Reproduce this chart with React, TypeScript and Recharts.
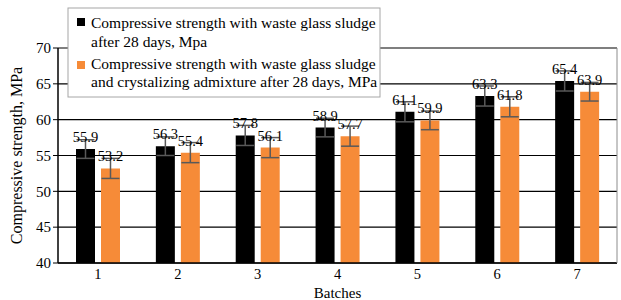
import { BarChart, Bar, XAxis, YAxis, CartesianGrid, ErrorBar, LabelList } from 'recharts'

const batches = ['1', '2', '3', '4', '5', '6', '7']
const sludge = [55.9, 56.3, 57.8, 58.9, 61.1, 63.3, 65.4]
const admixture = [53.2, 55.4, 56.1, 57.7, 59.9, 61.8, 63.9]
const sludgeErr = [1.3, 1.3, 1.4, 1.3, 1.4, 1.4, 1.4]
const admixtureErr = [1.4, 1.4, 1.4, 1.4, 1.3, 1.4, 1.3]
const yTicks = [40, 45, 50, 55, 60, 65, 70]

const data = batches.map((b, i) => ({
  batch: b,
  sludge: sludge[i],
  admixture: admixture[i],
  sludgeErr: sludgeErr[i],
  admixtureErr: admixtureErr[i],
}))

const font = 'Liberation Serif, Tinos, DejaVu Serif, Times New Roman, serif'
const orange = '#F68B38'

// legend drawn as a small svg on top of the chart
function LegendBox() {
  const txt = { fontFamily: font, fontSize: 15.5, fill: '#000' }
  return (
    <svg width={314} height={91} style={{ position: 'absolute', left: 67, top: 7 }}>
      <rect x={1} y={1} width={312} height={89} fill="#fff" stroke="#a6a6a6" />
      <rect x={10} y={11} width={8} height={8} fill="#000" />
      <text x={24} y={21} {...txt}>Compressive strength with waste glass sludge</text>
      <text x={24} y={40} {...txt}>after 28 days, Mpa</text>
      <rect x={10} y={54} width={8} height={8} fill={orange} />
      <text x={24} y={62} {...txt}>Compressive strength with waste glass sludge</text>
      <text x={24} y={80} {...txt}>and crystalizing admixture after 28 days, MPa</text>
    </svg>
  )
}

export default function App() {
  return (
    <div style={{ position: 'absolute', left: 0, top: 0, width: 621, height: 300, background: '#fff' }}>
      <BarChart
        width={621}
        height={300}
        data={data}
        margin={{ top: 48, right: 0, left: 0, bottom: 0 }}
        barSize={19}
        barGap={6}
      >
        <CartesianGrid vertical={false} stroke="#000" strokeWidth={1.2} />
        <XAxis
          dataKey="batch"
          height={37}
          tickLine={false}
          axisLine={{ stroke: '#000', strokeWidth: 1.5 }}
          tick={{ fill: '#000', fontFamily: font, fontSize: 14.5 }}
          tickMargin={0}
          label={{ value: 'Batches', position: 'insideBottom', offset: 2, fill: '#000', fontFamily: font, fontSize: 15 }}
        />
        <YAxis
          domain={[40, 70]}
          ticks={yTicks}
          width={58}
          tickSize={5}
          tickLine={{ stroke: '#000' }}
          axisLine={{ stroke: '#000', strokeWidth: 1.5 }}
          tick={{ fill: '#000', fontFamily: font, fontSize: 15 }}
          interval={0}
          label={{
            value: 'Compressive strength, MPa',
            angle: -90,
            position: 'insideLeft',
            offset: 16,
            style: { textAnchor: 'middle' },
            fill: '#000',
            fontFamily: font,
            fontSize: 16,
          }}
        />
        <YAxis
          yAxisId="r"
          orientation="right"
          width={4}
          tick={false}
          tickLine={false}
          axisLine={{ stroke: '#8c8c8c' }}
        />
        <Bar dataKey="sludge" fill="#000" isAnimationActive={false}>
          <ErrorBar dataKey="sludgeErr" width={9} stroke="#595959" strokeWidth={1.5} />
          <LabelList dataKey="sludge" position="top" offset={7} fill="#000" fontFamily={font} fontSize={14.5} />
        </Bar>
        <Bar dataKey="admixture" fill={orange} isAnimationActive={false}>
          <ErrorBar dataKey="admixtureErr" width={9} stroke="#595959" strokeWidth={1.5} />
          <LabelList dataKey="admixture" position="top" offset={7} fill="#000" fontFamily={font} fontSize={14.5} />
        </Bar>
      </BarChart>
      <LegendBox />
    </div>
  )
}
